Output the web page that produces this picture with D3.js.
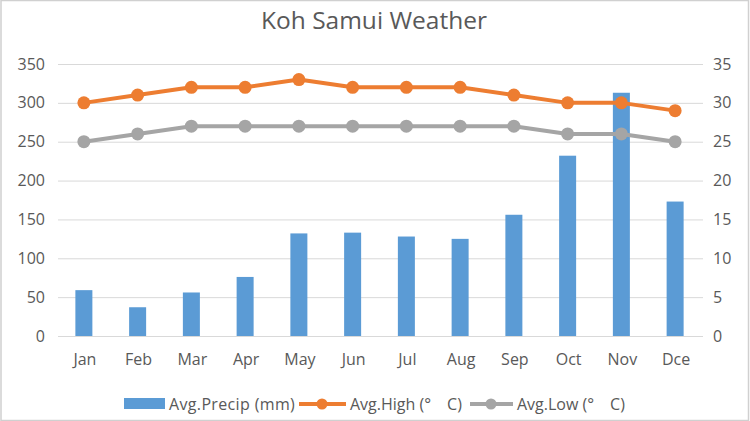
<!DOCTYPE html>
<html><head><meta charset="utf-8">
<script src="https://cdn.jsdelivr.net/npm/d3@7"></script>
<style>body{margin:0;background:#fff}svg{display:block}</style>
</head><body>
<svg id="c" width="750" height="421"></svg>
<script>
const months = ["Jan","Feb","Mar","Apr","May","Jun","Jul","Aug","Sep","Oct","Nov","Dce"];
const precip = [59,37,56,76,132,133,128,125,156,232,313,173];
const high = [30,31,32,32,33,32,32,32,31,30,30,29];
const low = [25,26,27,27,27,27,27,27,27,26,26,25];
const leftTicks = [0,50,100,150,200,250,300,350];
const rightTicks = [0,5,10,15,20,25,30,35];

const svg = d3.select("#c");
const font = "Open Sans, sans-serif";
const txt = "#595959";
svg.append("rect").attr("x",1).attr("y",0.5).attr("width",747.5).attr("height",420)
  .attr("fill","#fff").attr("stroke","#d0d0d0").attr("stroke-width",1.5);

const x = d3.scaleBand().domain(months).range([58,703]).paddingInner(0).paddingOuter(0);
const yL = d3.scaleLinear().domain([0,350]).range([336,64]);
const yR = d3.scaleLinear().domain([0,35]).range([336,64]);

svg.append("text").attr("x",374).attr("y",29).attr("text-anchor","middle")
  .attr("font-family",font).attr("font-size",24.5).attr("fill",txt).text("Koh Samui Weather");

// grid
const gl = d3.axisLeft(yL).tickValues(leftTicks).tickSize(-(703-58)).tickFormat("");
svg.append("g").attr("transform","translate(58,0)").call(gl)
  .call(g=>g.select(".domain").remove())
  .call(g=>g.selectAll("line").attr("stroke","#d9d9d9").attr("stroke-width",1));

// left axis labels
svg.append("g").attr("transform","translate(50,0)")
  .call(d3.axisLeft(yL).tickValues(leftTicks).tickSize(0).tickPadding(5))
  .call(g=>g.select(".domain").remove())
  .call(g=>g.selectAll("text").attr("font-family",font).attr("font-size",16).attr("fill",txt));
// right axis labels
svg.append("g").attr("transform","translate(709,0)")
  .call(d3.axisRight(yR).tickValues(rightTicks).tickSize(0).tickPadding(4))
  .call(g=>g.select(".domain").remove())
  .call(g=>g.selectAll("text").attr("font-family",font).attr("font-size",16).attr("fill",txt));
// x axis
svg.append("g").attr("transform","translate(0,350)")
  .call(d3.axisBottom(x).tickSize(0).tickPadding(4))
  .call(g=>g.select(".domain").remove())
  .call(g=>g.selectAll("text").attr("font-family",font).attr("font-size",16).attr("fill",txt));

// bars
const bw = 17;
svg.append("g").selectAll("rect").data(precip).join("rect")
  .attr("x",(d,i)=>x(months[i])+x.bandwidth()/2-bw/2 - 1)
  .attr("width",bw)
  .attr("y",d=>yL(d)).attr("height",d=>yL(0)-yL(d))
  .attr("fill","#5b9bd5");

function series(vals,color){
  const line = d3.line().x((d,i)=>x(months[i])+x.bandwidth()/2-1).y(d=>yR(d));
  svg.append("path").datum(vals).attr("d",line).attr("fill","none")
    .attr("stroke",color).attr("stroke-width",4).attr("stroke-linejoin","round");
  svg.append("g").selectAll("circle").data(vals).join("circle")
    .attr("cx",(d,i)=>x(months[i])+x.bandwidth()/2-1).attr("cy",d=>yR(d))
    .attr("r",6.5).attr("fill",color);
}
series(low,"#a5a5a5");
series(high,"#ed7d31");

// legend
const lg = svg.append("g").attr("font-family",font).attr("font-size",16).attr("fill",txt);
lg.append("rect").attr("x",124).attr("y",398).attr("width",41).attr("height",11).attr("fill","#5b9bd5");
lg.append("text").attr("x",169).attr("y",410).attr("letter-spacing",0.35).text("Avg.Precip (mm)");
lg.append("line").attr("x1",299).attr("x2",346).attr("y1",404).attr("y2",404).attr("stroke","#ed7d31").attr("stroke-width",4);
lg.append("circle").attr("cx",322).attr("cy",404).attr("r",5.5).attr("fill","#ed7d31");
lg.append("text").attr("x",350).attr("y",410).text("Avg.High (\u00b0\u2003C)");
lg.append("line").attr("x1",470).attr("x2",513).attr("y1",404).attr("y2",404).attr("stroke","#a5a5a5").attr("stroke-width",4);
lg.append("circle").attr("cx",491).attr("cy",404).attr("r",5.5).attr("fill","#a5a5a5");
lg.append("text").attr("x",517).attr("y",410).text("Avg.Low (\u00b0\u2003C)");
</script>
</body></html>
